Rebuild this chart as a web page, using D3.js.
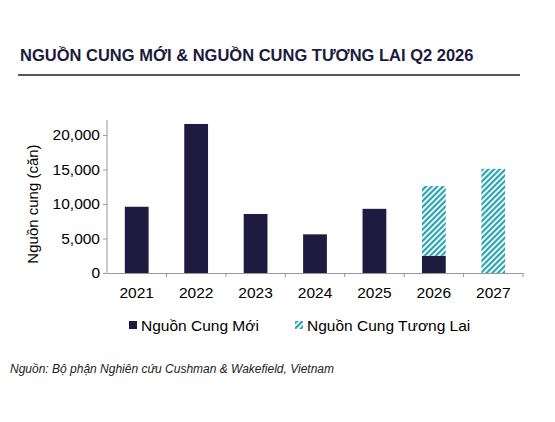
<!DOCTYPE html>
<html><head><meta charset="utf-8">
<script src="https://cdn.jsdelivr.net/npm/d3@7"></script>
<style>body{margin:0;background:#fff;font-family:Arial,"Liberation Sans",sans-serif}</style>
</head><body>
<script>
var years = ["2021","2022","2023","2024","2025","2026","2027"];
var newSupply = [9600, 21600, 8550, 5600, 9300, 2500, 0];
var futureSupply = [0, 0, 0, 0, 0, 10100, 15100];
var yTicks = [0, 5000, 10000, 15000, 20000];

var svg = d3.select("body").append("svg").attr("width", 555).attr("height", 422);
var defs = svg.append("defs");
var pat = defs.append("pattern").attr("id","hatch").attr("patternUnits","userSpaceOnUse")
  .attr("width",4).attr("height",4).attr("patternTransform","rotate(45)");
pat.append("rect").attr("width",4).attr("height",4).attr("fill","#fff");
pat.append("rect").attr("width",2.2).attr("height",4).attr("fill","#2aa3b0");

svg.append("text").attr("x",20).attr("y",61).attr("font-size",16.5).attr("font-weight","bold")
  .attr("fill","#1c1a3d").text("NGUỒN CUNG MỚI & NGUỒN CUNG TƯƠNG LAI Q2 2026");
svg.append("line").attr("x1",18).attr("x2",520).attr("y1",75).attr("y2",75).attr("stroke","#1c1a3d").attr("stroke-width",1.5);

var x = d3.scaleBand().domain(years).range([107,523]).paddingInner(0.6).paddingOuter(0.3);
var xb = d3.scaleBand().domain(years).range([107,523]);
var y = d3.scaleLinear().domain([0,20000]).range([273,135]);

var g = svg.append("g");
g.selectAll(".n").data(years).enter().append("rect")
  .attr("x", d => x(d)).attr("width", x.bandwidth())
  .attr("y", (d,i) => y(newSupply[i])).attr("height", (d,i) => y(0)-y(newSupply[i]))
  .attr("fill","#1e1a40");
g.selectAll(".f").data(years).enter().append("rect")
  .attr("x", d => x(d)).attr("width", x.bandwidth())
  .attr("y", (d,i) => y(newSupply[i]+futureSupply[i])).attr("height", (d,i) => y(0)-y(futureSupply[i]))
  .attr("fill","url(#hatch)");

var ya = svg.append("g").attr("transform","translate(107,0)")
  .call(d3.axisLeft(y).tickValues(yTicks).tickSize(4).tickFormat(d3.format(",")));
ya.select(".domain").attr("d","M0,120V273");
var xa = svg.append("g").attr("transform","translate(0,273)")
  .call(d3.axisBottom(xb).tickSize(0).tickPadding(14));
xa.selectAll(".tick").append("line").attr("x1",xb.bandwidth()/2).attr("x2",xb.bandwidth()/2).attr("y2",4).attr("stroke","#999");
[ya, xa].forEach(a => {
  a.selectAll(".domain").attr("stroke","#999");
  a.selectAll(".tick line").attr("stroke","#999");
  a.selectAll("text").attr("font-size",15.5).attr("fill","#000").attr("font-family","Arial,'Liberation Sans',sans-serif");
});
svg.append("text").attr("transform","translate(38,204) rotate(-90)").attr("text-anchor","middle")
  .attr("font-size",15).text("Nguồn cung (căn)");

var lg = svg.append("g").attr("font-size",15.5);
lg.append("rect").attr("x",129).attr("y",321).attr("width",8).attr("height",8).attr("fill","#1e1a40");
lg.append("text").attr("x",141).attr("y",331).text("Nguồn Cung Mới");
lg.append("rect").attr("x",295).attr("y",321).attr("width",8).attr("height",8).attr("fill","url(#hatch)");
lg.append("text").attr("x",307).attr("y",331).text("Nguồn Cung Tương Lai");

svg.append("text").attr("x",10).attr("y",373).attr("font-size",12).attr("font-style","italic")
  .attr("fill","#222").text("Nguồn: Bộ phận Nghiên cứu Cushman & Wakefield, Vietnam");
</script>
</body></html>
